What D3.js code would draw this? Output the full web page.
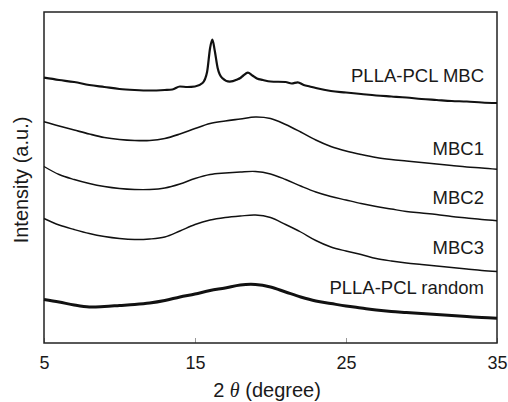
<!DOCTYPE html>
<html>
<head>
<meta charset="utf-8">
<script src="https://cdn.jsdelivr.net/npm/d3@7"></script>
<style>
  body { margin: 0; background: #fff; }
  text { font-family: "Liberation Sans", Arial, sans-serif; fill: #1a1a1a; }
</style>
</head>
<body>
<svg id="chart" width="508" height="402"></svg>
<script>
// 2 theta grid (degree) shared by the broad patterns
let angles = [5, 6, 7, 8, 9, 10, 11, 12, 13, 14, 15, 16, 17, 18, 19, 20,
  21, 22, 23, 24, 25, 26, 27, 28, 29, 30, 31, 32, 33, 34, 35];

let mbc1 = [221.3, 217, 213, 209, 205.5, 203.5, 202.5, 202.5, 204.5, 209, 214.5,
  219.5, 222, 224, 226, 224.5, 218.5, 211, 203, 196.5, 192, 188.5, 185.5, 183.5,
  182, 180.5, 179, 177.5, 176, 175, 173.7];

let mbc2 = [176.5, 168.5, 163.5, 159.5, 156.5, 154.5, 153.5, 153.5, 155, 159, 164.5,
  168.5, 170, 171, 171.5, 169, 163.5, 157, 151, 146.5, 143, 139.5, 136.5, 134,
  131.5, 130, 128.5, 126.5, 125, 123.5, 122.3];

let mbc3 = [124.5, 118, 113.5, 109.5, 106.5, 104.5, 103.5, 104, 106, 112, 118.5,
  123, 125.5, 127, 128, 125.5, 118.5, 111, 102.5, 96, 92, 88.5, 84.5, 82,
  80, 78.5, 77, 75.5, 74, 72.5, 71.5];

let random = [43.5, 41, 38, 36, 36.5, 37.5, 38.5, 40, 42.5, 46, 49,
  52.5, 55, 58, 58.5, 56, 51, 46, 42, 39.5, 37, 35, 33, 31.5,
  30.5, 29.5, 28.5, 27.5, 26.5, 25.5, 24.7];

// PLLA-PCL MBC has sharp peaks, so it gets its own finer grid
let mbcAngles = [5, 6, 7, 8, 9, 10, 11, 12, 13, 13.5, 14, 14.5, 15, 15.5, 15.8,
  16, 16.15, 16.3, 16.5, 16.8, 17.3, 17.8, 18, 18.2, 18.5, 18.8, 19.1, 19.5, 20,
  21, 21.4, 21.8, 22.2, 22.6, 23, 24, 25, 26, 27, 28, 29, 30, 31, 32, 33, 34, 35];
let mbcValues = [265.3, 263, 261, 258, 256, 254, 253, 252.5, 253, 253.5, 256.5, 256,
  256.5, 260, 271, 295, 303.5, 293, 275, 265, 261.3, 263.5, 265, 267.5, 270.3, 267.5,
  264.5, 263, 261.5, 261, 259.5, 260.7, 258, 256.5, 255, 252, 250.5, 249, 247.5,
  246.5, 245.5, 244, 243, 242, 241.5, 240.5, 240];

let xTicks = [5, 15, 25, 35];
let names = ["PLLA-PCL MBC", "MBC1", "MBC2", "MBC3", "PLLA-PCL random"];

let leftMargin = 44,
  topMargin = 12,
  rightMargin = 11,
  bottomMargin = 59,
  width = 508,
  height = 402;

let svg = d3.select("#chart");

let xScale = d3.scaleLinear()
  .domain([5, 35])
  .range([leftMargin, width - rightMargin]);

let yScale = d3.scaleLinear()
  .domain([0, 331])
  .range([height - bottomMargin, topMargin]);

// x axis, ticks pointing inward
let xAxis = d3.axisBottom(xScale)
  .tickValues(xTicks)
  .tickSizeInner(-5)
  .tickSizeOuter(0)
  .tickPadding(13);

let gx = svg.append("g")
  .attr("transform", `translate(0,${height - bottomMargin})`)
  .call(xAxis);
gx.select(".domain").remove();
gx.selectAll(".tick line").attr("stroke", "#999").attr("stroke-width", 1);
gx.selectAll(".tick text")
  .style("font-size", "18px")
  .style("font-family", "Liberation Sans, Arial, sans-serif")
  .attr("fill", "#1a1a1a");

// frame
svg.append("rect")
  .attr("x", leftMargin)
  .attr("y", topMargin)
  .attr("width", width - leftMargin - rightMargin)
  .attr("height", height - topMargin - bottomMargin)
  .attr("fill", "none")
  .attr("stroke", "#222")
  .attr("stroke-width", 1.5);

// lines: smooth spline for the broad humps, monotone for the sharp peaks
let smoothLine = d3.line()
  .x((d) => xScale(d[0]))
  .y((d) => yScale(d[1]))
  .curve(d3.curveCatmullRom.alpha(0.5));

let peakLine = d3.line()
  .x((d) => xScale(d[0]))
  .y((d) => yScale(d[1]))
  .curve(d3.curveMonotoneX);

let series = [
  { pts: d3.zip(mbcAngles, mbcValues), w: 2.2, gen: peakLine },
  { pts: d3.zip(angles, mbc1), w: 1.6, gen: smoothLine },
  { pts: d3.zip(angles, mbc2), w: 1.4, gen: smoothLine },
  { pts: d3.zip(angles, mbc3), w: 1.4, gen: smoothLine },
  { pts: d3.zip(angles, random), w: 3, gen: smoothLine }
];

svg.selectAll(".xrd")
  .data(series)
  .enter()
  .append("path")
  .attr("class", "xrd")
  .attr("d", (d) => d.gen(d.pts))
  .attr("fill", "none")
  .attr("stroke", "#111")
  .attr("stroke-width", (d) => d.w)
  .attr("stroke-linejoin", "round");

// curve labels
let labelBaselines = [81.5, 155, 203.5, 253.5, 293.5];
svg.selectAll(".name")
  .data(names)
  .enter()
  .append("text")
  .attr("class", "name")
  .attr("x", 484)
  .attr("y", (d, i) => labelBaselines[i])
  .attr("text-anchor", "end")
  .style("font-size", "18.5px")
  .text((d) => d);

// x title
let xt = svg.append("text")
  .attr("x", 267)
  .attr("y", 397)
  .attr("text-anchor", "middle")
  .style("font-size", "20px");
xt.append("tspan").text("2 ");
xt.append("tspan")
  .style("font-family", "Liberation Serif, Times New Roman, serif")
  .style("font-style", "italic")
  .text("θ");
xt.append("tspan").text(" (degree)");

// y title
svg.append("text")
  .attr("transform", "rotate(-90)")
  .attr("x", -180)
  .attr("y", 28)
  .attr("text-anchor", "middle")
  .style("font-size", "20px")
  .text("Intensity (a.u.)");
</script>
</body>
</html>
